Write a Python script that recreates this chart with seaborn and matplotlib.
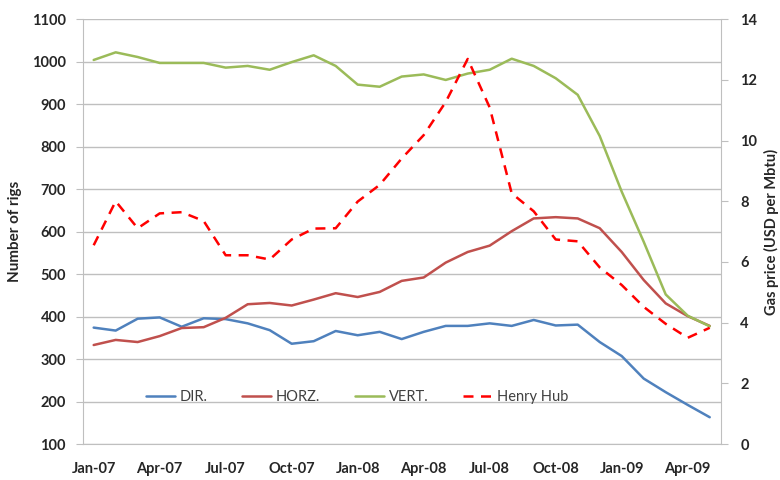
import pandas as pd
import matplotlib.pyplot as plt
import matplotlib.lines as mlines
import seaborn as sns

sns.set_style("white")
plt.rcParams['font.family'] = ['Lato', 'DejaVu Sans']

# Monthly data, Jan-07 .. May-09
months = pd.date_range("2007-01-01", "2009-05-01", freq="MS").strftime("%b-%y").tolist()

dir_rigs = [374, 367, 395, 398, 376, 396, 394, 384, 368, 336, 342, 366,
            356, 364, 347, 364, 378, 378, 384, 378, 392, 379, 381, 340,
            307, 254, 222, 192, 163]
horz_rigs = [333, 345, 340, 354, 373, 375, 397, 429, 432, 426, 440, 455,
             446, 458, 484, 492, 527, 552, 567, 601, 631, 634, 631, 608,
             552, 486, 431, 401, 378]
vert_rigs = [1004, 1022, 1011, 997, 997, 997, 986, 990, 981, 999, 1015, 990,
             946, 941, 965, 970, 957, 972, 981, 1007, 990, 961, 922, 825,
             694, 576, 452, 402, 377]
henry_hub = [6.55, 8.00, 7.11, 7.60, 7.64, 7.35, 6.22, 6.22, 6.08, 6.74, 7.10, 7.11,
             7.99, 8.54, 9.41, 10.18, 11.27, 12.69, 11.09, 8.26, 7.67, 6.74, 6.68, 5.82,
             5.24, 4.52, 3.96, 3.50, 3.83]

series_names = ["DIR.", "HORZ.", "VERT."]
colors = {"DIR.": "#4F81BD", "HORZ.": "#C0504D", "VERT.": "#9BBB59"}

# Long format for seaborn
idx = list(range(len(months)))
rigs = pd.DataFrame({"idx": idx, "DIR.": dir_rigs, "HORZ.": horz_rigs, "VERT.": vert_rigs})
rigs_long = rigs.melt(id_vars="idx", var_name="Type", value_name="Rigs")
gas = pd.DataFrame({"idx": idx, "Price": henry_hub})

fig = plt.figure(figsize=(7.8, 4.8), dpi=100)
ax = fig.add_axes([0.106, 0.075, 0.818, 0.885])
ax2 = ax.twinx()

sns.lineplot(data=rigs_long, x="idx", y="Rigs", hue="Type", hue_order=series_names,
             palette=colors, linewidth=1.8, ax=ax, legend=False)
sns.lineplot(data=gas, x="idx", y="Price", color="#FF0000", linewidth=1.8,
             linestyle=(0, (4, 3)), ax=ax2, legend=False)

grid_col = "#BFBFBF"
ax.set_ylim(100, 1100)
ax.set_yticks(range(100, 1101, 100))
ax.yaxis.grid(True, color=grid_col, linewidth=1)
ax.set_xlim(-0.5, len(months) - 0.5)
ax2.set_ylim(0, 14)
ax2.set_yticks(range(0, 15, 2))

# Tick marks at category boundaries, labels at category centres
ax.set_xticks([i - 0.5 for i in range(0, len(months) - 1, 3)])
ax.set_xticklabels([])
ax.set_xticks(range(0, len(months), 3), minor=True)
ax.set_xticklabels(months[::3], minor=True)
ax.tick_params(axis="x", which="major", length=5, color=grid_col, direction="out")
ax.tick_params(axis="x", which="minor", length=0, pad=13)
ax.tick_params(axis="y", length=5, color=grid_col, pad=7)
ax2.tick_params(axis="y", length=5, color=grid_col, pad=9)

for lab in ax.get_yticklabels() + ax.get_xticklabels(minor=True) + ax2.get_yticklabels():
    lab.set_fontsize(10.5)
    lab.set_fontweight("bold")

ax.set_xlabel("")
ax.set_ylabel("Number of rigs", fontsize=11, fontweight="bold", labelpad=7)
ax2.set_ylabel("Gas price (USD per Mbtu)", fontsize=10.5, fontweight="bold", labelpad=5)

for a in (ax, ax2):
    a.spines["top"].set_visible(False)
    a.spines["left"].set_color(grid_col)
    a.spines["right"].set_color(grid_col)
    a.spines["bottom"].set_color(grid_col)
ax.spines["right"].set_visible(False)
ax2.spines["left"].set_visible(False)
ax2.spines["bottom"].set_visible(False)

handles = [mlines.Line2D([], [], color=colors[n], linewidth=1.8) for n in series_names]
handles.append(mlines.Line2D([], [], color="#FF0000", linewidth=1.8, linestyle=(0, (4, 3))))
leg = ax.legend(handles, series_names + ["Henry Hub"], loc="center", bbox_to_anchor=(0.43, 0.11),
                ncol=4, frameon=False, fontsize=10.5, handlelength=2.0, columnspacing=2.4,
                handletextpad=0.3)
for t in leg.get_texts():
    t.set_color("#404040")

fig.savefig("out.png", dpi=100)
